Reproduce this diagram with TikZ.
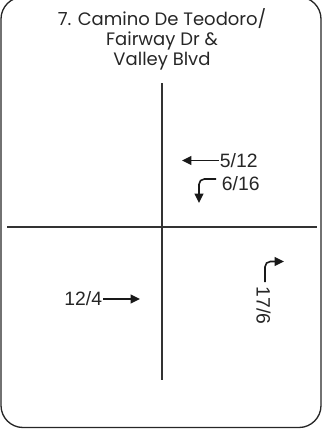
\documentclass[tikz,border=0pt]{standalone}
\usepackage{fontspec}
\setmainfont{Liberation Sans}
\newfontfamily\titlefont{Poppins}
\usetikzlibrary{arrows.meta,positioning}

\begin{document}
\begin{tikzpicture}[
  x=0.75pt, y=-0.75pt,
  >={Triangle[length=7pt,width=6.5pt]},
  frame/.style={draw=black!85, line width=1pt, rounded corners=16.5pt},
  road/.style={draw=black!80, line width=0.8pt},
  vol/.style={font=\fontsize{14.5}{15}\selectfont, inner sep=0.5pt, text=black!85},
  turn/.style={->, line width=1.2pt, rounded corners=4pt, black!90}
]
\useasboundingbox (0,0) rectangle (322,429);

% frame
\draw[frame] (1,-3) rectangle (321,427.5);

% title
\node[align=center, inner sep=0pt, text=black!85,
  font=\titlefont\fontsize{13.5}{15}\selectfont] (title) at (162,39)
  {7. Camino De Teodoro/\\Fairway Dr \&\\Valley Blvd};

% roads
\coordinate (N) at (162,83);
\coordinate (S) at (162,380);
\coordinate (W) at (7,227);
\coordinate (E) at (317,227);
\draw[road] (N) -- (S);
\draw[road] (W) -- (E);

% westbound approach
\node[vol, anchor=west] (n512) at (219,160.5) {5/12};
\coordinate (t512) at (182,160.5);
\draw[turn] (n512.west) -- (t512);

\node[vol, anchor=west] (n616) at (221,183.5) {6/16};
\coordinate (t616) at (199,203);
\draw[turn] ([shift={(-5,-4.5)}]n616.west) -| (t616);

% eastbound approach
\node[vol, anchor=east] (n124) at (103,299) {12/4};
\coordinate (t124) at (140,299);
\draw[turn] (n124.east) -- (t124);

% northbound approach
\node[vol, rotate=-90, anchor=west] (n176) at (263.5,286) {17/6};
\coordinate (t176) at (284,261.5);
\draw[turn] ([shift={(1.5,-4)}]n176.west) |- (t176);
\end{tikzpicture}
\end{document}
